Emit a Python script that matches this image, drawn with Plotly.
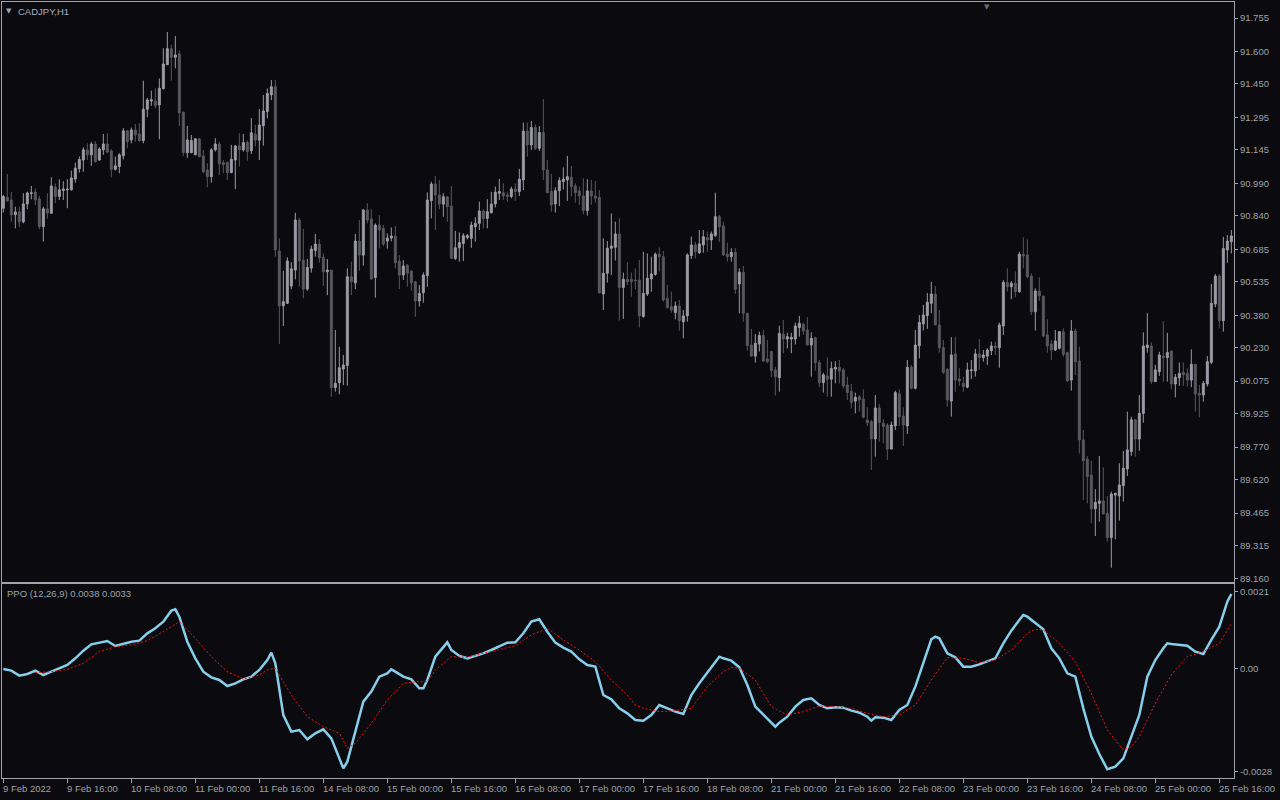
import plotly.graph_objects as go

# ---------------- price data (CADJPY, H1) ----------------
open_ = [
    90.875, 90.926, 90.913, 90.845, 90.858, 90.812, 90.895, 90.943, 90.950, 90.918,
    90.790, 90.872, 90.852, 90.973, 90.929, 90.957, 90.960, 90.960, 91.010, 91.058,
    91.098, 91.145, 91.122, 91.172, 91.098, 91.145, 91.172, 91.140, 91.055, 91.068,
    91.118, 91.233, 91.191, 91.237, 91.219, 91.188, 91.333, 91.371, 91.371, 91.353,
    91.428, 91.539, 91.613, 91.573, 91.589, 91.319, 91.132, 91.132, 91.122, 91.196,
    91.117, 91.052, 91.021, 91.145, 91.172, 91.086, 91.086, 91.040, 91.098, 91.163,
    91.145, 91.179, 91.141, 91.218, 91.190, 91.257, 91.322, 91.399, 91.437, 90.677,
    90.423, 90.435, 90.515, 90.589, 90.820, 90.635, 90.501, 90.598, 90.679, 90.709,
    90.648, 90.581, 90.589, 90.045, 90.068, 90.131, 90.147, 90.558, 90.530, 90.723,
    90.658, 90.867, 90.825, 90.554, 90.797, 90.782, 90.723, 90.737, 90.746, 90.631,
    90.566, 90.611, 90.584, 90.535, 90.446, 90.484, 90.563, 90.910, 90.987, 90.936,
    90.894, 90.928, 90.885, 90.643, 90.692, 90.712, 90.740, 90.736, 90.790, 90.805,
    90.862, 90.828, 90.854, 90.895, 90.944, 90.947, 90.936, 90.929, 90.964, 90.952,
    91.006, 91.232, 91.168, 91.248, 91.152, 91.225, 91.052, 90.952, 90.895, 90.956,
    90.998, 91.006, 91.018, 90.978, 90.955, 90.932, 90.864, 90.955, 90.932, 90.925,
    90.478, 90.574, 90.690, 90.694, 90.756, 90.508, 90.546, 90.546, 90.543, 90.543,
    90.374, 90.478, 90.548, 90.569, 90.662, 90.651, 90.458, 90.420, 90.392, 90.423,
    90.350, 90.377, 90.656, 90.705, 90.669, 90.705, 90.739, 90.728, 90.748, 90.836,
    90.793, 90.663, 90.651, 90.671, 90.525, 90.579, 90.389, 90.242, 90.191, 90.247,
    90.286, 90.178, 90.212, 90.127, 90.091, 90.293, 90.270, 90.270, 90.270, 90.323,
    90.338, 90.312, 90.242, 90.276, 90.161, 90.068, 90.099, 90.084, 90.131, 90.139,
    90.127, 90.057, 90.027, 89.983, 90.003, 89.993, 89.895, 89.888, 89.808, 89.951,
    89.880, 89.872, 89.761, 89.868, 90.016, 89.914, 89.868, 90.139, 90.042, 90.239,
    90.340, 90.378, 90.435, 90.478, 90.335, 90.230, 90.130, 89.983, 90.201, 90.085,
    90.065, 90.047, 90.124, 90.122, 90.201, 90.184, 90.191, 90.216, 90.238, 90.230,
    90.330, 90.532, 90.512, 90.528, 90.489, 90.662, 90.659, 90.561, 90.396, 90.492,
    90.469, 90.289, 90.247, 90.219, 90.227, 90.304, 90.207, 90.080, 90.307, 90.168,
    89.803, 89.715, 89.641, 89.484, 89.510, 89.521, 89.464, 89.351, 89.548, 89.544,
    89.592, 89.669, 89.749, 89.896, 89.807, 89.926, 90.230, 90.238, 90.073, 90.119,
    90.191, 90.184, 90.215, 90.062, 90.090, 90.116, 90.111, 90.080, 90.153, 90.019,
    90.011, 90.062, 90.162, 90.432, 90.561, 90.355, 90.682, 90.720,
]
high = [
    90.936, 91.034, 90.950, 90.882, 90.882, 90.944, 90.952, 90.978, 90.967, 90.932,
    90.882, 90.944, 91.018, 90.990, 91.009, 91.000, 91.009, 91.049, 91.086, 91.114,
    91.157, 91.175, 91.182, 91.185, 91.157, 91.219, 91.222, 91.148, 91.114, 91.129,
    91.245, 91.237, 91.248, 91.265, 91.268, 91.465, 91.385, 91.419, 91.430, 91.475,
    91.615, 91.690, 91.632, 91.672, 91.604, 91.322, 91.256, 91.214, 91.199, 91.199,
    91.145, 91.083, 91.152, 91.199, 91.183, 91.098, 91.091, 91.168, 91.168, 91.222,
    91.219, 91.188, 91.292, 91.260, 91.334, 91.399, 91.429, 91.468, 91.468, 90.736,
    90.586, 90.648, 90.625, 90.854, 90.831, 90.779, 90.640, 90.702, 90.756, 90.732,
    90.666, 90.640, 90.589, 90.312, 90.234, 90.196, 90.597, 90.628, 90.756, 90.820,
    90.871, 90.898, 90.871, 90.805, 90.843, 90.797, 90.759, 90.786, 90.793, 90.658,
    90.635, 90.617, 90.589, 90.538, 90.520, 90.578, 90.948, 90.998, 91.024, 91.005,
    90.944, 90.928, 90.978, 90.770, 90.763, 90.759, 90.756, 90.813, 90.833, 90.905,
    90.870, 90.917, 90.951, 90.975, 91.010, 90.990, 90.952, 90.975, 90.990, 91.057,
    91.271, 91.271, 91.279, 91.263, 91.255, 91.380, 91.098, 91.033, 90.972, 91.018,
    91.064, 91.117, 91.070, 90.990, 90.975, 91.013, 91.009, 91.006, 91.001, 90.959,
    90.736, 90.723, 90.851, 90.813, 90.828, 90.577, 90.625, 90.577, 90.597, 90.636,
    90.674, 90.666, 90.651, 90.670, 90.694, 90.677, 90.520, 90.489, 90.443, 90.451,
    90.404, 90.666, 90.744, 90.720, 90.774, 90.774, 90.767, 90.767, 90.947, 90.844,
    90.813, 90.716, 90.690, 90.690, 90.597, 90.608, 90.389, 90.317, 90.293, 90.304,
    90.312, 90.266, 90.216, 90.142, 90.332, 90.358, 90.299, 90.299, 90.346, 90.377,
    90.346, 90.371, 90.301, 90.281, 90.173, 90.114, 90.185, 90.165, 90.168, 90.173,
    90.135, 90.096, 90.062, 90.022, 90.011, 90.037, 89.954, 89.895, 90.011, 89.970,
    89.899, 89.880, 89.888, 90.031, 90.037, 89.953, 90.173, 90.150, 90.312, 90.381,
    90.428, 90.482, 90.535, 90.515, 90.404, 90.266, 90.135, 90.278, 90.281, 90.135,
    90.096, 90.161, 90.173, 90.224, 90.270, 90.219, 90.227, 90.258, 90.258, 90.346,
    90.543, 90.597, 90.538, 90.582, 90.674, 90.740, 90.731, 90.574, 90.504, 90.555,
    90.469, 90.361, 90.265, 90.312, 90.304, 90.319, 90.211, 90.358, 90.319, 90.235,
    89.849, 89.729, 89.707, 89.575, 89.729, 89.676, 89.544, 89.564, 89.559, 89.695,
    89.752, 89.934, 89.911, 89.900, 90.011, 90.301, 90.389, 90.255, 90.150, 90.211,
    90.353, 90.299, 90.215, 90.108, 90.161, 90.161, 90.134, 90.222, 90.153, 90.057,
    90.076, 90.191, 90.525, 90.571, 90.571, 90.743, 90.751, 90.774,
]
low = [
    90.855, 90.906, 90.813, 90.782, 90.787, 90.805, 90.870, 90.916, 90.890, 90.778,
    90.721, 90.827, 90.849, 90.898, 90.913, 90.913, 90.875, 90.957, 90.993, 91.040,
    91.044, 91.098, 91.071, 91.086, 91.095, 91.122, 91.129, 91.018, 91.049, 91.037,
    91.101, 91.152, 91.175, 91.183, 91.183, 91.175, 91.296, 91.348, 91.337, 91.194,
    91.425, 91.539, 91.465, 91.522, 91.256, 91.117, 91.108, 91.129, 91.122, 91.111,
    91.037, 90.972, 90.993, 91.137, 91.029, 91.037, 91.006, 91.037, 90.963, 91.068,
    91.137, 91.095, 91.126, 91.160, 91.098, 91.164, 91.291, 91.375, 90.651, 90.247,
    90.330, 90.432, 90.500, 90.546, 90.512, 90.458, 90.493, 90.577, 90.651, 90.623,
    90.515, 90.473, 90.003, 90.026, 90.014, 90.057, 90.054, 90.473, 90.501, 90.586,
    90.609, 90.805, 90.547, 90.461, 90.689, 90.700, 90.688, 90.722, 90.597, 90.501,
    90.543, 90.512, 90.493, 90.373, 90.420, 90.438, 90.512, 90.828, 90.774, 90.870,
    90.836, 90.813, 90.640, 90.635, 90.628, 90.631, 90.731, 90.692, 90.720, 90.774,
    90.782, 90.782, 90.851, 90.879, 90.913, 90.913, 90.905, 90.921, 90.909, 90.932,
    90.959, 91.114, 91.144, 91.144, 91.140, 91.006, 90.944, 90.859, 90.855, 90.885,
    90.962, 90.909, 90.929, 90.901, 90.890, 90.847, 90.841, 90.890, 90.901, 90.481,
    90.404, 90.531, 90.566, 90.633, 90.355, 90.363, 90.520, 90.466, 90.500, 90.323,
    90.369, 90.469, 90.489, 90.562, 90.582, 90.443, 90.412, 90.392, 90.361, 90.309,
    90.273, 90.350, 90.640, 90.643, 90.663, 90.669, 90.674, 90.682, 90.743, 90.720,
    90.654, 90.628, 90.628, 90.478, 90.389, 90.350, 90.216, 90.188, 90.161, 90.212,
    90.165, 90.158, 90.093, 90.008, 90.026, 90.204, 90.227, 90.204, 90.245, 90.281,
    90.289, 90.242, 90.096, 90.124, 90.047, 90.022, 90.003, 90.003, 90.065, 90.065,
    90.042, 89.988, 89.949, 89.926, 89.934, 89.903, 89.868, 89.664, 89.726, 89.795,
    89.787, 89.710, 89.760, 89.849, 89.868, 89.775, 89.831, 90.037, 90.037, 90.181,
    90.309, 90.317, 90.389, 90.335, 90.207, 90.108, 89.957, 89.911, 90.026, 90.053,
    90.026, 90.042, 90.084, 90.096, 90.127, 90.165, 90.150, 90.196, 90.196, 90.137,
    90.289, 90.489, 90.454, 90.463, 90.484, 90.597, 90.551, 90.381, 90.309, 90.447,
    90.278, 90.207, 90.173, 90.215, 90.222, 90.188, 90.073, 90.031, 90.103, 89.741,
    89.525, 89.510, 89.417, 89.359, 89.425, 89.460, 89.333, 89.212, 89.343, 89.430,
    89.518, 89.636, 89.729, 89.726, 89.753, 89.883, 90.207, 90.062, 90.070, 90.099,
    90.073, 90.073, 90.037, 90.000, 90.053, 90.053, 90.050, 90.047, 89.934, 89.908,
    89.980, 90.050, 90.154, 90.417, 90.319, 90.304, 90.623, 90.666,
]
close = [
    90.929, 90.909, 90.844, 90.858, 90.812, 90.895, 90.946, 90.946, 90.913, 90.790,
    90.872, 90.852, 90.978, 90.929, 90.960, 90.964, 90.963, 91.015, 91.060, 91.100,
    91.145, 91.122, 91.172, 91.091, 91.149, 91.172, 91.135, 91.055, 91.071, 91.122,
    91.233, 91.183, 91.237, 91.214, 91.188, 91.333, 91.376, 91.376, 91.350, 91.430,
    91.542, 91.613, 91.573, 91.584, 91.317, 91.132, 91.191, 91.188, 91.196, 91.114,
    91.044, 91.021, 91.145, 91.172, 91.080, 91.077, 91.040, 91.101, 91.163, 91.145,
    91.179, 91.137, 91.224, 91.190, 91.260, 91.325, 91.406, 91.437, 90.682, 90.423,
    90.443, 90.631, 90.595, 90.820, 90.631, 90.501, 90.601, 90.686, 90.709, 90.646,
    90.581, 90.589, 90.045, 90.065, 90.137, 90.150, 90.558, 90.535, 90.723, 90.658,
    90.867, 90.820, 90.547, 90.797, 90.774, 90.709, 90.737, 90.746, 90.623, 90.566,
    90.608, 90.574, 90.530, 90.446, 90.481, 90.566, 90.913, 90.987, 90.936, 90.894,
    90.928, 90.882, 90.643, 90.692, 90.716, 90.748, 90.748, 90.797, 90.805, 90.862,
    90.828, 90.859, 90.894, 90.949, 90.952, 90.932, 90.929, 90.964, 90.952, 91.009,
    91.232, 91.168, 91.248, 91.152, 91.225, 91.052, 90.947, 90.890, 90.956, 91.003,
    91.010, 91.021, 90.975, 90.947, 90.932, 90.864, 90.955, 90.932, 90.921, 90.484,
    90.574, 90.690, 90.700, 90.756, 90.508, 90.546, 90.535, 90.535, 90.540, 90.377,
    90.481, 90.551, 90.571, 90.662, 90.651, 90.451, 90.415, 90.404, 90.423, 90.355,
    90.377, 90.659, 90.705, 90.674, 90.710, 90.743, 90.728, 90.756, 90.836, 90.790,
    90.659, 90.651, 90.671, 90.500, 90.579, 90.389, 90.239, 90.191, 90.250, 90.286,
    90.168, 90.165, 90.124, 90.096, 90.296, 90.270, 90.281, 90.278, 90.330, 90.343,
    90.307, 90.242, 90.273, 90.161, 90.068, 90.104, 90.084, 90.134, 90.139, 90.122,
    90.053, 90.023, 89.977, 90.000, 89.988, 89.908, 89.883, 89.808, 89.951, 89.883,
    89.865, 89.761, 89.872, 90.022, 89.911, 89.872, 90.139, 90.042, 90.242, 90.347,
    90.381, 90.440, 90.478, 90.335, 90.230, 90.116, 89.988, 90.196, 90.080, 90.076,
    90.050, 90.127, 90.127, 90.201, 90.184, 90.196, 90.219, 90.238, 90.230, 90.335,
    90.532, 90.512, 90.528, 90.489, 90.662, 90.654, 90.558, 90.396, 90.492, 90.469,
    90.284, 90.238, 90.219, 90.261, 90.304, 90.199, 90.076, 90.307, 90.165, 89.803,
    89.707, 89.633, 89.484, 89.514, 89.521, 89.460, 89.351, 89.553, 89.556, 89.595,
    89.672, 89.757, 89.896, 89.807, 89.926, 90.238, 90.242, 90.073, 90.127, 90.196,
    90.184, 90.208, 90.062, 90.093, 90.111, 90.104, 90.080, 90.153, 90.016, 90.011,
    90.065, 90.165, 90.435, 90.561, 90.355, 90.689, 90.723, 90.747,
]
bars = list(range(len(close)))

price_ticks = [91.755, 91.600, 91.450, 91.295, 91.145, 90.990, 90.840, 90.685, 90.535,
               90.380, 90.230, 90.075, 89.925, 89.770, 89.620, 89.465, 89.315, 89.160]
price_tick_text = ["91.755", "91.600", "91.450", "91.295", "91.145", "90.990", "90.840",
                   "90.685", "90.535", "90.380", "90.230", "90.075", "89.925", "89.770",
                   "89.620", "89.465", "89.315", "89.160"]

# ---------------- PPO (12,26,9) ----------------
ppo_bar = [0, 2, 4, 6, 8, 10, 12, 14, 16, 18, 20, 22, 24, 26, 28, 30, 32, 34, 36, 38,
           40, 42, 43, 44, 46, 48, 50, 52, 54, 56, 58, 60, 62, 64, 66, 67, 68, 70, 72, 74,
           76, 78, 80, 82, 84, 85, 86, 88, 90, 92, 94, 96, 97, 98, 100, 102, 104, 105, 106, 108,
           110, 111, 112, 114, 116, 118, 120, 122, 124, 126, 128, 130, 132, 134, 136, 138, 140, 142, 144, 146,
           148, 150, 152, 154, 156, 158, 160, 162, 164, 166, 168, 170, 172, 174, 176, 178, 179, 180, 182, 184,
           186, 188, 190, 192, 193, 194, 196, 198, 200, 202, 204, 206, 208, 210, 212, 214, 216, 217, 218, 220,
           222, 224, 226, 228, 230, 232, 233, 234, 236, 238, 240, 242, 244, 246, 248, 250, 252, 254, 255, 256,
           258, 260, 262, 264, 266, 268, 270, 272, 274, 276, 278, 280, 282, 284, 286, 288, 290, 291, 292, 294,
           296, 298, 300, 302, 304, 306, 307]
ppo_val = [0.0, -0.45e-4, -1.82e-4, -1.36e-4, -0.45e-4, -1.64e-4, -0.73e-4, 0.18e-4, 1.09e-4, 2.91e-4,
           5.0e-4, 6.73e-4, 7.27e-4, 7.64e-4, 6.27e-4, 6.82e-4, 7.45e-4, 7.73e-4, 9.73e-4, 11.09e-4,
           12.91e-4, 15.91e-4, 16.27e-4, 14.27e-4, 7.45e-4, 2.91e-4, -0.73e-4, -2.27e-4, -3.0e-4, -4.64e-4,
           -3.91e-4, -2.82e-4, -2.09e-4, -0.27e-4, 2.45e-4, 4.45e-4, 1.55e-4, -12.55e-4, -17.09e-4, -16.64e-4,
           -19.18e-4, -17.55e-4, -16.45e-4, -18.91e-4, -24.36e-4, -27.09e-4, -25.27e-4, -17.09e-4, -8.91e-4, -6.18e-4,
           -2.09e-4, -1.18e-4, -0.09e-4, -0.73e-4, -2.09e-4, -2.82e-4, -5.27e-4, -5.27e-4, -3.0e-4, 3.36e-4,
           6.09e-4, 7.27e-4, 5.18e-4, 3.55e-4, 2.91e-4, 3.55e-4, 4.27e-4, 5.18e-4, 6.27e-4, 7.18e-4,
           7.27e-4, 9.73e-4, 12.91e-4, 13.55e-4, 10.18e-4, 7.18e-4, 5.82e-4, 4.73e-4, 2.64e-4, 1.09e-4,
           0.64e-4, -7.09e-4, -8.27e-4, -10.73e-4, -12.09e-4, -13.91e-4, -14.09e-4, -12.55e-4, -9.82e-4, -10.73e-4,
           -11.64e-4, -12.27e-4, -7.09e-4, -3.91e-4, -1.0e-4, 2.0e-4, 3.36e-4, 2.91e-4, 2.27e-4, 0.45e-4,
           -4.36e-4, -10.27e-4, -12.55e-4, -14.64e-4, -15.73e-4, -14.64e-4, -13.0e-4, -10.27e-4, -8.45e-4, -8.0e-4,
           -9.82e-4, -10.73e-4, -10.45e-4, -10.55e-4, -11.36e-4, -11.91e-4, -13.0e-4, -14.09e-4, -13.18e-4, -13.27e-4,
           -13.91e-4, -11.18e-4, -9.82e-4, -4.82e-4, 1.55e-4, 8.09e-4, 8.82e-4, 8.36e-4, 4.27e-4, 3.18e-4,
           0.64e-4, 0.64e-4, 1.27e-4, 2.0e-4, 2.91e-4, 7.0e-4, 10.45e-4, 13.36e-4, 14.73e-4, 14.27e-4,
           12.64e-4, 10.82e-4, 5.64e-4, 2.91e-4, -1.18e-4, -2.09e-4, -10.73e-4, -18.45e-4, -23.18e-4, -27.36e-4,
           -26.64e-4, -24.36e-4, -18.45e-4, -12.55e-4, -2.09e-4, 2.45e-4, 5.64e-4, 7.0e-4, 6.82e-4, 6.55e-4,
           6.36e-4, 4.73e-4, 4.09e-4, 7.91e-4, 11.55e-4, 18.36e-4, 20.45e-4]

sig_bar = [8, 12, 16, 20, 24, 28, 32, 36, 40, 42, 44, 48, 52, 56, 60, 64, 66, 68, 72, 76,
           80, 84, 86, 88, 92, 96, 100, 104, 106, 108, 112, 116, 120, 124, 128, 132, 136, 140, 144, 148,
           152, 156, 158, 160, 164, 168, 172, 176, 180, 182, 184, 188, 192, 196, 200, 204, 208, 212, 216, 220,
           224, 228, 232, 236, 240, 244, 248, 252, 256, 258, 260, 264, 268, 272, 276, 280, 282, 284, 288, 292,
           296, 300, 304, 307]
sig_val = [-1.0e-4, -0.73e-4, -0.09e-4, 1.55e-4, 4.73e-4, 6.09e-4, 6.55e-4, 7.73e-4, 10.18e-4, 11.55e-4,
           12.91e-4, 8.36e-4, 3.36e-4, -0.73e-4, -2.73e-4, -1.64e-4, -0.27e-4, 0.18e-4, -7.09e-4, -13.0e-4,
           -15.73e-4, -17.55e-4, -21.64e-4, -20.27e-4, -14.82e-4, -8.45e-4, -3.91e-4, -3.45e-4, -3.45e-4, -0.27e-4,
           3.36e-4, 3.18e-4, 4.27e-4, 5.36e-4, 6.36e-4, 9.27e-4, 11.09e-4, 7.91e-4, 5.18e-4, 2.0e-4,
           -3.0e-4, -7.09e-4, -9.82e-4, -10.73e-4, -11.64e-4, -11.36e-4, -10.73e-4, -4.82e-4, -0.73e-4, 0.45e-4,
           0.18e-4, -3.0e-4, -10.27e-4, -12.55e-4, -11.64e-4, -10.09e-4, -10.27e-4, -10.73e-4, -12.09e-4, -13.0e-4,
           -12.55e-4, -9.82e-4, -3.0e-4, 3.09e-4, 2.91e-4, 1.73e-4, 2.45e-4, 5.18e-4, 9.73e-4, 10.82e-4,
           10.64e-4, 7.0e-4, 2.0e-4, -6.64e-4, -16.64e-4, -22.09e-4, -21.18e-4, -18.45e-4, -9.36e-4, -1.64e-4,
           3.36e-4, 4.73e-4, 7.0e-4, 12.45e-4]

ppo_ticks = [0.0021, 0.0, -0.0028]
ppo_tick_text = ["0.0021", "0.00", "-0.0028"]

time_tick_bar = [0, 16, 32, 48, 64, 80, 96, 112, 128, 144, 160, 176, 192, 208, 224, 240, 256, 272, 288, 304]
time_tick_text = ["9 Feb 2022", "9 Feb 16:00", "10 Feb 08:00", "11 Feb 00:00", "11 Feb 16:00",
                  "14 Feb 08:00", "15 Feb 00:00", "15 Feb 16:00", "16 Feb 08:00", "17 Feb 00:00",
                  "17 Feb 16:00", "18 Feb 08:00", "21 Feb 00:00", "21 Feb 16:00", "22 Feb 08:00",
                  "23 Feb 00:00", "23 Feb 16:00", "24 Feb 08:00", "25 Feb 00:00", "25 Feb 16:00"]

# ---------------- styling ----------------
BG = "#0a0a0f"
BULL = "#9c9ca6"
BEAR = "#58585e"
AXIS = "#a2a2aa"
TXT = "#9ea3ab"
FONT = "Liberation Sans"

fig = go.Figure()
fig.add_trace(go.Candlestick(
    x=bars, open=open_, high=high, low=low, close=close,
    xaxis="x", yaxis="y",
    increasing=dict(line=dict(color=BULL, width=1), fillcolor=BULL),
    decreasing=dict(line=dict(color=BEAR, width=1), fillcolor=BEAR),
    whiskerwidth=0, hoverinfo="skip", showlegend=False,
))
fig.add_trace(go.Scatter(
    x=ppo_bar, y=ppo_val, xaxis="x2", yaxis="y2", mode="lines",
    line=dict(color="#87ceeb", width=2.5), hoverinfo="skip", showlegend=False,
))
fig.add_trace(go.Scatter(
    x=sig_bar, y=sig_val, xaxis="x2", yaxis="y2", mode="lines",
    line=dict(color="#ff1010", width=1, dash="2px,2px"), hoverinfo="skip", showlegend=False,
))

xrange = [-0.33, 307.67]
common_axis = dict(showgrid=False, zeroline=False, showline=True, mirror=True,
                   linecolor=AXIS, linewidth=1, fixedrange=True)

annotations = [
    dict(text="▼", x=0, y=1, xref="paper", yref="paper", xanchor="left", yanchor="top",
         xshift=2, yshift=-3, showarrow=False, font=dict(family="DejaVu Sans", size=7, color=TXT)),
    dict(text="CADJPY,H1", x=0, y=1, xref="paper", yref="paper", xanchor="left", yanchor="top",
         xshift=14, yshift=-2, showarrow=False, font=dict(family=FONT, size=9.5, color="#a9b0bf")),
    dict(text="PPO (12,26,9) 0.0038 0.0033", x=0, y=1, xref="paper", yref="y2 domain",
         xanchor="left", yanchor="top", xshift=3, yshift=-2, showarrow=False,
         font=dict(family=FONT, size=9.5, color=TXT)),
    dict(text="▼", x=0.7995, y=1, xref="paper", yref="paper", xanchor="center", yanchor="top",
         yshift=1, showarrow=False, font=dict(family="DejaVu Sans", size=7, color="#6a6a72")),
]
for b, t in zip(time_tick_bar, time_tick_text):
    annotations.append(dict(text=t, x=b, y=0, xref="x2", yref="paper", xanchor="left",
                            yanchor="middle", xshift=-2, yshift=-10, showarrow=False,
                            font=dict(family=FONT, size=9.5, color=TXT)))

fig.update_layout(
    width=1280, height=800, autosize=False,
    margin=dict(l=2, r=46, t=2, b=22, pad=0),
    paper_bgcolor=BG, plot_bgcolor=BG,
    boxgap=0.3,
    showlegend=False,
    xaxis=dict(domain=[0, 1], range=xrange, anchor="y", ticks="", showticklabels=False,
               rangeslider=dict(visible=False), **common_axis),
    yaxis=dict(domain=[0.2526, 1], range=[89.146, 91.829], anchor="x", side="right",
               tickvals=price_ticks, ticktext=price_tick_text, ticks="outside", ticklen=3,
               tickcolor=AXIS, tickfont=dict(family=FONT, size=9.5, color=TXT), **common_axis),
    xaxis2=dict(domain=[0, 1], range=xrange, anchor="y2", ticks="outside", ticklen=4,
                tickcolor=AXIS, tickvals=time_tick_bar, showticklabels=False, **common_axis),
    yaxis2=dict(domain=[0, 0.25], range=[-0.002973, 0.002318], anchor="x2", side="right",
                tickvals=ppo_ticks, ticktext=ppo_tick_text, ticks="outside", ticklen=3,
                tickcolor=AXIS, tickfont=dict(family=FONT, size=9.5, color=TXT), **common_axis),
    annotations=annotations,
)

fig.write_html("out.html",
               config={"displayModeBar": False, "staticPlot": True},
               post_script="document.body.style.margin='0';document.body.style.background='#0a0a0f';")
